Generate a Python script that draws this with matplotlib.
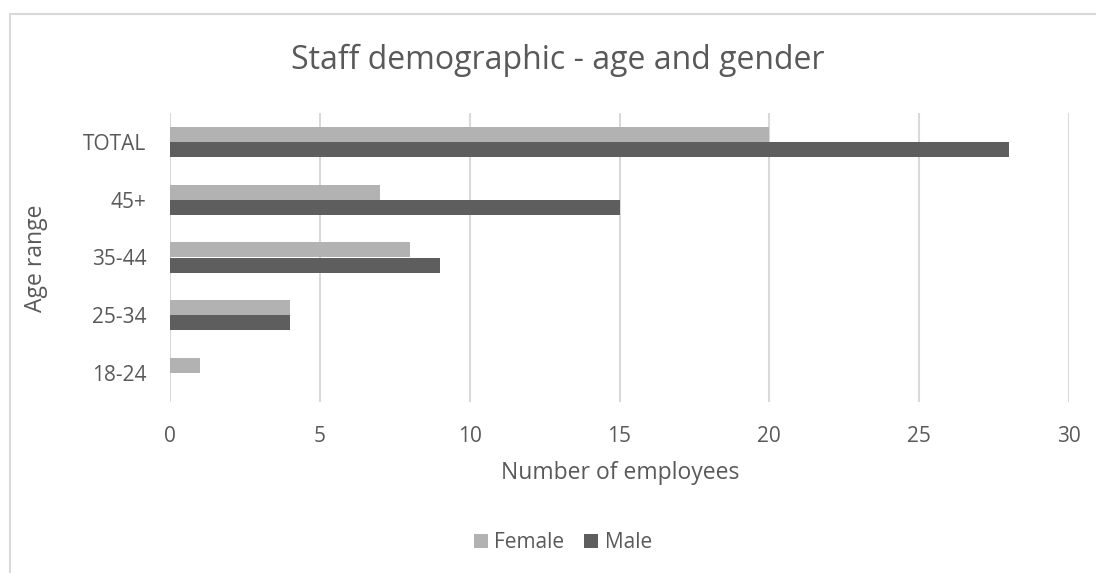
import matplotlib
matplotlib.use("Agg")
import matplotlib.pyplot as plt
from matplotlib.patches import Rectangle
import numpy as np

categories = ["18-24", "25-34", "35-44", "45+", "TOTAL"]
female = [1, 4, 8, 7, 20]
male = [0, 4, 9, 15, 28]
x_ticks = [0, 5, 10, 15, 20, 25, 30]

W, H = 1096, 573
TXT = "#595959"
GRID = "#d9d9d9"
plt.rcParams["font.family"] = ["Open Sans", "DejaVu Sans"]

fig = plt.figure(figsize=(W / 100, H / 100), dpi=100)

# chart border (Excel style, cut off right and bottom)
fig.patches.append(Rectangle((10 / W, -0.1), 1.2, 1 - 14 / H + 0.1,
                             transform=fig.transFigure, fill=False,
                             edgecolor=GRID, linewidth=1.5))

ax = fig.add_axes([170 / W, 1 - 402 / H, (1069 - 170) / W, (402 - 113) / H])

y = np.arange(len(categories))
h = 0.26
ax.barh(y + h / 2, female, height=h, color="#b2b2b2", linewidth=0,
        label="Female", zorder=3)
ax.barh(y - h / 2, male, height=h, color="#5e5e5e", linewidth=0,
        label="Male", zorder=3)

ax.set_xlim(0, 30)
ax.set_ylim(-0.5, len(categories) - 0.5)
ax.set_xticks(x_ticks)
ax.set_yticks(y)
ax.set_yticklabels(categories)
ax.tick_params(axis="both", length=0, colors=TXT, labelsize=15)
ax.tick_params(axis="x", pad=17)
ax.tick_params(axis="y", pad=17)
ax.grid(axis="x", color=GRID, linewidth=1.5, zorder=0)
for s in ax.spines.values():
    s.set_visible(False)

fig.text(620 / W, 1 - 473 / H, "Number of employees", ha="center",
         va="center", fontsize=16.5, color=TXT)
fig.text(36 / W, 1 - 258 / H, "Age range", ha="center", va="center",
         rotation=90, fontsize=16.5, color=TXT)

fig.text(558 / W, 1 - 60 / H, "Staff demographic - age and gender",
         ha="center", va="center", fontsize=23, color=TXT)

handles, labels = ax.get_legend_handles_labels()
fig.legend(handles, labels, loc="center", bbox_to_anchor=(563 / W, 1 - 543 / H),
           ncol=2, frameon=False, fontsize=15, labelcolor=TXT,
           handlelength=0.67, handleheight=0.67, handletextpad=0.3,
           columnspacing=0.95)

fig.savefig("out.png", dpi=100, facecolor="white")
